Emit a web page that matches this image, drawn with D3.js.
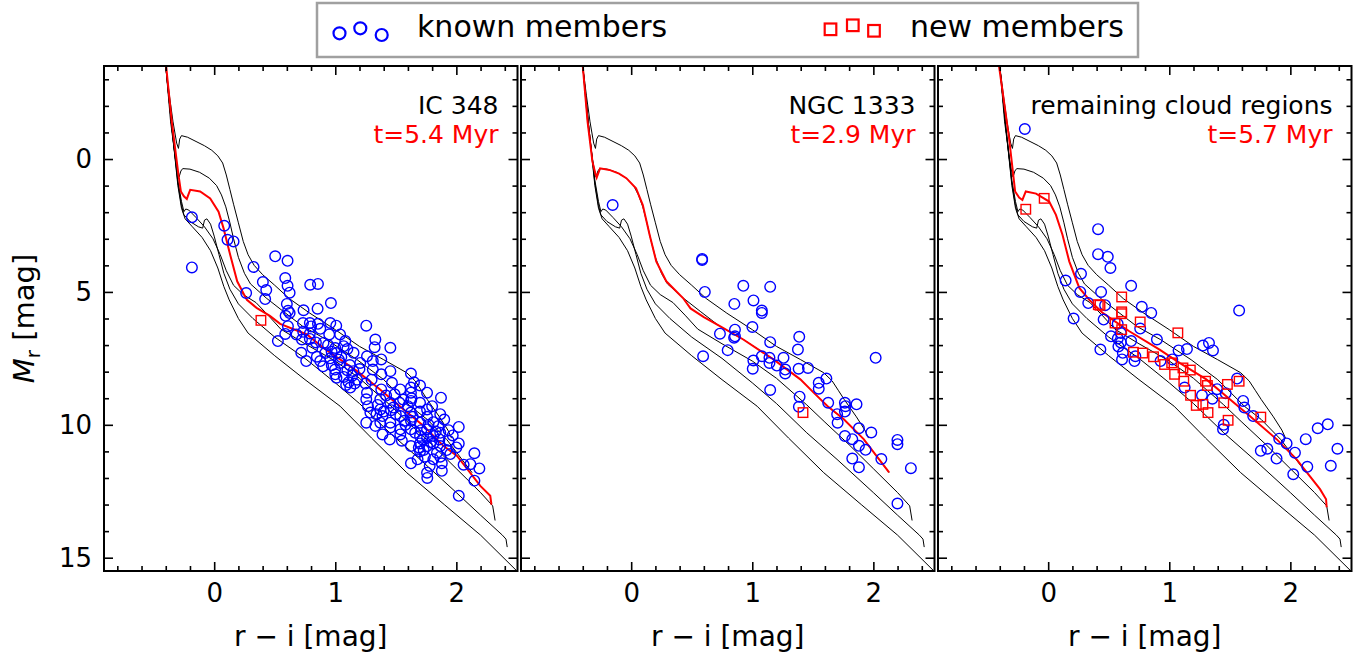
<!DOCTYPE html>
<html>
<head>
<meta charset="utf-8">
<script src="https://cdn.jsdelivr.net/npm/d3@7"></script>
<style>
  body { margin: 0; background: #fff; }
  text { font-family: "DejaVu Sans", sans-serif; }
</style>
</head>
<body>
<svg id="chart" width="1372" height="658"></svg>
<script>
// ============= Data =============

const xMajor = [0, 1, 2];
const xMinor = [-0.8, -0.6, -0.4, -0.2, 0.2, 0.4, 0.6, 0.8, 1.2, 1.4, 1.6, 1.8, 2.2, 2.4];
const yMajor = [0, 5, 10, 15];
const yMinor = [-3, -2, -1, 1, 2, 3, 4, 6, 7, 8, 9, 11, 12, 13, 14];

const panelNames = ["IC 348", "NGC 1333", "remaining cloud regions"];
const panelAges = ["t=5.4 Myr", "t=2.9 Myr", "t=5.7 Myr"];

// black reference isochrones (r-i, M_r), same in every panel
const isoA = [[-0.40,-3.5],[-0.37,-2.4],[-0.34,-1.4],[-0.31,-0.6],[-0.295,-0.4],[-0.285,-0.75],[-0.27,-0.88],[-0.22,-0.82],[-0.15,-0.66],[-0.08,-0.5],[-0.02,-0.33],[0.03,-0.12],[0.07,0.15],[0.10,0.6],[0.13,1.15],[0.16,1.7],[0.20,2.4],[0.24,3.1],[0.28,3.6],[0.33,4.0],[0.40,4.35],[0.50,4.75],[0.62,5.25],[0.79,5.8],[1.0,6.42],[1.2,7.05],[1.4,7.55],[1.59,8.04],[1.66,8.35],[1.71,8.7],[1.76,9.05],[1.86,9.7],[1.93,10.2],[1.96,10.5]];
const isoB = [[-0.40,-3.5],[-0.36,-1.4],[-0.32,0.0],[-0.30,0.5],[-0.29,0.68],[-0.275,0.45],[-0.26,0.36],[-0.2,0.38],[-0.12,0.5],[-0.04,0.72],[0.02,1.0],[0.06,1.35],[0.096,1.8],[0.13,2.4],[0.16,3.0],[0.2,3.7],[0.25,4.3],[0.3,4.7],[0.43,5.23],[0.57,5.73],[0.73,6.29],[0.93,6.8],[1.18,7.55],[1.4,8.3],[1.51,8.8],[1.62,9.3],[1.76,9.8],[1.92,10.55],[2.13,11.8]];
const isoC = [[-0.40,-3.5],[-0.35,-1.2],[-0.30,0.8],[-0.27,1.6],[-0.25,1.98],[-0.235,1.88],[-0.21,1.92],[-0.15,2.2],[-0.08,2.55],[-0.01,3.0],[0.05,3.6],[0.10,4.2],[0.16,4.75],[0.24,5.1],[0.345,5.4],[0.45,5.9],[0.55,6.4],[0.75,6.95],[1.0,7.6],[1.2,8.25],[1.45,9.25],[1.6,9.9],[1.8,10.75],[2.0,11.65],[2.2,12.55],[2.30,13.05],[2.32,13.6]];
const isoD = [[-0.40,-3.5],[-0.35,-1.2],[-0.30,0.9],[-0.27,1.75],[-0.25,2.1],[-0.20,2.35],[-0.13,2.55],[-0.095,2.6],[-0.08,2.3],[-0.06,2.25],[-0.03,2.45],[0.0,2.9],[0.04,3.6],[0.08,4.3],[0.13,4.9],[0.2,5.45],[0.32,6.0],[0.5,6.7],[0.75,7.5],[1.0,8.42],[1.2,9.2],[1.45,10.3],[1.7,11.3],[2.0,12.55],[2.2,13.4],[2.38,14.15],[2.41,14.3],[2.42,14.6]];
const isoE = [[-0.40,-3.5],[-0.35,-1.2],[-0.30,1.0],[-0.27,1.85],[-0.24,2.25],[-0.18,2.55],[-0.10,2.95],[-0.03,3.45],[0.03,4.1],[0.08,4.8],[0.124,5.3],[0.2,6.0],[0.28,6.55],[0.5,7.4],[0.75,8.3],[1.04,9.3],[1.3,10.5],[1.59,11.8],[1.9,13.0],[2.2,14.15],[2.5,15.5]];

// best fitting isochrone per panel (red)
const fitIC348 = [[-0.397,-3.5],[-0.35,-1.4],[-0.295,0.6],[-0.275,1.22],[-0.25,1.4],[-0.226,1.5],[-0.21,1.3],[-0.198,1.16],[-0.116,1.22],[-0.033,1.48],[0.036,1.98],[0.077,2.6],[0.132,3.6],[0.19,4.6],[0.27,5.3],[0.35,5.6],[0.46,5.9],[0.545,6.2],[0.766,6.6],[0.90,7.1],[1.18,7.98],[1.37,8.67],[1.565,9.42],[1.73,10.04],[1.895,10.8],[2.006,11.17],[2.198,12.3],[2.28,12.67],[2.29,13.0]];
const fitNGC1333 = [[-0.40,-3.5],[-0.36,-1.4],[-0.32,0.1],[-0.296,0.54],[-0.285,0.7],[-0.257,0.35],[-0.18,0.41],[-0.10,0.55],[-0.04,0.72],[0.04,1.1],[0.096,1.73],[0.152,2.85],[0.207,3.85],[0.29,4.6],[0.428,5.23],[0.49,5.62],[0.6,5.95],[0.733,6.29],[0.926,6.79],[1.175,7.54],[1.397,8.29],[1.507,8.79],[1.62,9.29],[1.756,9.79],[1.92,10.54],[2.13,11.79]];
const fitRest = [[-0.406,-3.5],[-0.36,-2.0],[-0.323,-0.78],[-0.273,1.22],[-0.24,1.45],[-0.213,1.54],[-0.185,1.22],[-0.10,1.3],[0.008,1.6],[0.064,2.1],[0.118,2.85],[0.174,3.85],[0.257,4.85],[0.34,5.3],[0.45,5.79],[0.67,6.48],[0.92,7.17],[1.085,7.67],[1.306,8.29],[1.50,9.04],[1.665,9.67],[1.886,10.54],[2.05,11.29],[2.245,12.42],[2.295,12.8],[2.30,13.1]];

// members (r-i, M_r)
const knownIC348 = [[-0.184,2.19],[-0.184,4.08],[0.083,2.51],[0.11,3.04],[0.16,3.1],[0.325,4.06],[0.504,3.66],[0.606,3.83],[0.264,5.04],[0.402,4.63],[0.43,4.93],[0.421,5.27],[0.587,4.48],[0.606,4.77],[0.623,5.03],[0.793,4.73],[0.857,4.7],[0.964,5.42],[0.60,5.45],[0.738,5.69],[0.854,5.63],[0.61,5.71],
  [0.623,5.79],[0.59,5.9],[0.733,6.17],[0.79,6.17],[0.857,6.2],[0.959,6.17],[1.008,6.27],[1.256,6.27],[0.609,6.29],[0.587,6.58],[0.526,6.85],[0.735,6.5],[0.79,6.56],[0.876,6.39],[0.725,6.79],[0.79,6.77],[0.84,6.9],[0.903,6.92],[1.04,6.6],[1.083,6.85],[1.069,7.04],[1.0,7.11],[1.01,7.3],[1.151,7.29],[1.206,7.67],[1.331,6.79],[1.325,7.08],[1.455,7.1],[1.262,7.42],[1.31,7.6],[1.38,7.54],[1.31,7.92],[1.38,8.1],[1.455,7.98],[1.625,8.07],[1.70,8.52],[1.758,8.79],[1.873,8.98],[1.867,9.6],[2.02,10.08],[1.936,10.2],[2.02,10.7],[2.0,10.85],[2.149,11.07],[2.116,11.48],[2.19,11.64],[2.149,12.1],[2.02,12.67],[2.06,11.5],
  [0.719,7.29],[0.76,7.6],[0.876,7.6],[0.917,7.3],[0.958,7.5],[0.971,7.76],[0.998,7.92],[1.04,7.67],[1.0,8.1],[1.07,8.2],[1.11,8.4],[1.124,8.6],[1.15,7.98],[1.18,8.3],[1.09,8.5],[1.01,8.23],[0.848,7.44],[0.81,7.1],[0.94,7.0],[1.05,7.45],[1.12,7.75],[0.9,7.8],[0.68,6.6],[0.8,6.3],[0.95,6.6],[1.1,7.15],[1.2,7.9],[1.16,8.45],
  [1.262,8.79],[1.256,9.04],[1.29,9.54],[1.256,9.92],[1.331,10.04],[1.372,9.04],[1.372,9.42],[1.39,9.67],[1.372,9.92],[1.39,10.36],[1.38,8.67],[1.468,8.42],[1.455,9.17],[1.46,9.45],[1.455,9.92],[1.455,10.1],[1.537,8.67],[1.53,9.17],[1.537,9.67],[1.537,10.17],[1.537,10.36],[1.625,8.6],[1.625,8.79],[1.625,9.1],[1.625,9.54],[1.625,9.85],[1.625,10.17],[1.625,10.8],[1.625,11.45],[1.70,9.17],[1.70,9.5],[1.70,9.92],[1.70,10.42],[1.70,10.7],[1.70,11.0],[1.758,9.42],[1.758,9.7],[1.758,10.17],[1.758,10.5],[1.758,10.8],[1.758,11.8],[1.76,12.0],[1.81,9.9],[1.81,10.42],[1.81,10.7],[1.81,11.3],[1.867,10.3],[1.867,10.8],[1.867,11.2],[1.88,11.73],[1.936,10.6],[1.95,11.1],[1.3,8.3],[1.42,8.9],[1.5,9.6],[1.58,10.0],[1.66,10.3],[1.73,10.95],[1.6,9.3],[1.49,8.85],[1.35,9.25],[1.25,8.45],[1.65,8.4],[1.8,9.3],[1.9,9.8],[1.97,10.4],[1.85,10.05],[1.55,10.6],[1.45,10.55],[1.68,11.3],[1.78,11.55],[1.84,11.05],
  [1.63,9.0],[1.64,9.7],[1.71,10.2],[1.72,10.55],[1.77,10.0],[1.79,10.65],[1.83,10.25],[1.86,10.55],[1.88,11.45],[1.92,10.95],[1.69,10.85],[1.74,11.2],[1.56,9.05],[1.57,9.85],[1.48,9.35],[1.4,9.5],[1.34,9.6],[1.27,9.3],[1.1,7.95],[1.03,7.55],[0.97,7.25],[1.14,8.15]];
const newIC348 = [[0.386,6.07]];

const knownNGC1333 = [[-0.153,1.73],[0.586,3.76],[0.586,3.8],[0.608,5.0],[0.926,4.77],[0.852,5.45],[1.01,5.32],[1.148,4.81],[1.079,5.7],[1.079,5.79],[1.001,6.32],[0.733,6.57],[0.857,6.42],[0.857,6.67],[0.85,6.72],[0.594,7.42],[0.797,7.19],[1.148,6.89],[1.388,6.69],[1.377,7.17],[1.009,7.58],[1.004,7.89],[1.079,7.42],[1.142,7.48],[1.142,7.67],[1.258,7.48],[1.203,7.77],[1.272,7.92],[1.272,8.07],[1.383,7.89],[1.46,7.86],[1.148,8.69],[1.391,8.94],[1.385,9.32],[1.549,8.42],[1.549,8.64],[1.612,8.26],[1.627,9.17],[1.765,9.17],[1.77,9.3],[1.765,9.5],[1.861,9.23],[1.701,9.6],[1.705,9.92],[1.881,10.13],[1.983,10.29],[1.765,10.42],[1.826,10.54],[1.881,10.79],[1.936,10.94],[1.826,11.27],[1.881,11.6],[2.066,11.29],[2.019,7.48],[2.199,10.57],[2.199,10.73],[2.31,11.63],[2.199,12.96]];
const newNGC1333 = [[1.419,9.54]];

const knownRest = [[-0.193,-1.13],[0.412,2.64],[0.412,3.58],[0.492,3.68],[0.514,4.1],[0.271,4.32],[0.144,4.57],[0.685,4.77],[0.265,5.0],[0.437,5.0],[0.331,5.42],[0.47,5.5],[0.773,5.56],[0.851,5.79],[1.577,5.7],[0.21,6.0],[0.458,6.04],[0.76,6.38],[0.574,6.2],[0.519,6.67],[0.575,6.75],[0.6,6.9],[0.58,7.05],[0.6,6.55],[0.685,6.85],[0.898,6.79],[0.431,7.17],[0.616,7.29],[0.61,7.54],[0.713,7.6],[0.72,7.42],[0.928,7.6],[1.025,7.54],[1.077,7.2],[1.146,7.15],[1.278,7.02],[1.328,6.92],[1.361,7.2],[1.127,8.6],[1.27,8.89],[1.356,9.02],[1.395,8.66],[1.466,8.81],[1.56,8.26],[1.61,9.1],[1.62,9.35],[1.693,9.67],[1.444,10.17],[1.45,10.0],[1.908,10.52],[1.969,10.7],[2.038,11.05],[1.756,10.98],[1.81,10.9],[1.886,11.27],[2.024,11.86],[2.14,11.58],[2.127,10.54],[2.226,10.13],[2.309,9.98],[2.389,10.9],[2.334,11.54]];
const newRest = [[-0.185,1.89],[-0.033,1.48],[0.607,5.19],[0.428,5.5],[0.607,5.75],[0.414,5.48],[0.607,5.82],[0.76,6.13],[0.552,6.17],[0.607,6.42],[1.071,6.54],[0.704,7.27],[0.781,7.3],[0.87,7.44],[0.961,7.73],[1.02,7.67],[1.044,8.1],[1.113,7.86],[1.174,7.94],[1.12,8.36],[1.30,8.36],[1.315,8.52],[1.176,8.89],[1.223,9.27],[1.278,9.23],[1.32,9.54],[1.45,9.17],[1.48,8.48],[1.577,8.36],[1.486,9.83],[1.756,9.71]];

const isochrones = [isoA, isoB, isoC, isoD, isoE];
const fits = [fitIC348, fitNGC1333, fitRest];
const known = [knownIC348, knownNGC1333, knownRest];
const fresh = [newIC348, newNGC1333, newRest];

// ============= Layout =============

const panelLeft = [104, 521, 938];
const pw = 413.5;
const plotTop = 66, plotBottom = 571;

const x = d3.scaleLinear().domain([-0.91, 2.505]).range([0, pw]);
const y = d3.scaleLinear().domain([-3.5, 15.5]).range([plotTop, plotBottom]);

const line = d3.line().x(d => x(d[0])).y(d => y(d[1]));

const svg = d3.select('#chart');

function styleAxis(g, fontSize) {
  g.select('.domain').remove();
  g.selectAll('.tick line').attr('stroke', '#000').attr('stroke-width', 1.6);
  g.selectAll('.tick text').attr('font-size', fontSize).attr('font-family', '"DejaVu Sans", sans-serif').attr('fill', '#000');
  g.attr('font-size', null).attr('font-family', null);
}

// ============= Panels =============

panelLeft.forEach((left, i) => {
  const g = svg.append('g').attr('transform', `translate(${left},0)`);

  g.append('clipPath').attr('id', 'clip' + i)
    .append('rect').attr('x', 0).attr('y', plotTop).attr('width', pw).attr('height', plotBottom - plotTop);

  const plot = g.append('g').attr('clip-path', `url(#clip${i})`);

  plot.selectAll('path.iso')
    .data(isochrones)
    .join('path')
    .attr('class', 'iso')
    .attr('d', line)
    .attr('fill', 'none')
    .attr('stroke', '#000')
    .attr('stroke-width', 1);

  plot.append('path')
    .attr('d', line(fits[i]))
    .attr('fill', 'none')
    .attr('stroke', '#ff0000')
    .attr('stroke-width', 2);

  plot.selectAll('circle')
    .data(known[i])
    .join('circle')
    .attr('cx', d => x(d[0]))
    .attr('cy', d => y(d[1]))
    .attr('r', 5.3)
    .attr('fill', 'none')
    .attr('stroke', '#0000ff')
    .attr('stroke-width', 1.4);

  const s = 9.5;
  plot.selectAll('rect.new')
    .data(fresh[i])
    .join('rect')
    .attr('class', 'new')
    .attr('x', d => x(d[0]) - s / 2)
    .attr('y', d => y(d[1]) - s / 2)
    .attr('width', s)
    .attr('height', s)
    .attr('fill', 'none')
    .attr('stroke', '#ff0000')
    .attr('stroke-width', 1.4);

  // ticks on all four sides, pointing inwards
  g.append('g').attr('transform', `translate(0,${plotBottom})`)
    .call(d3.axisBottom(x).tickValues(xMajor).tickSize(-9).tickPadding(13).tickFormat(d3.format('d')))
    .call(a => styleAxis(a, 26));
  g.append('g').attr('transform', `translate(0,${plotBottom})`)
    .call(d3.axisBottom(x).tickValues(xMinor).tickSize(-5).tickFormat(''))
    .call(a => styleAxis(a, 26));
  g.append('g').attr('transform', `translate(0,${plotTop})`)
    .call(d3.axisTop(x).tickValues(xMajor).tickSize(-9).tickFormat(''))
    .call(a => styleAxis(a, 26));
  g.append('g').attr('transform', `translate(0,${plotTop})`)
    .call(d3.axisTop(x).tickValues(xMinor).tickSize(-5).tickFormat(''))
    .call(a => styleAxis(a, 26));

  g.append('g')
    .call(d3.axisLeft(y).tickValues(yMajor).tickSize(-9).tickPadding(12).tickFormat(i === 0 ? d3.format('d') : ''))
    .call(a => styleAxis(a, 26));
  g.append('g')
    .call(d3.axisLeft(y).tickValues(yMinor).tickSize(-5).tickFormat(''))
    .call(a => styleAxis(a, 26));
  g.append('g').attr('transform', `translate(${pw},0)`)
    .call(d3.axisRight(y).tickValues(yMajor).tickSize(-9).tickFormat(''))
    .call(a => styleAxis(a, 26));
  g.append('g').attr('transform', `translate(${pw},0)`)
    .call(d3.axisRight(y).tickValues(yMinor).tickSize(-5).tickFormat(''))
    .call(a => styleAxis(a, 26));

  g.append('rect')
    .attr('x', 0).attr('y', plotTop)
    .attr('width', pw).attr('height', plotBottom - plotTop)
    .attr('fill', 'none')
    .attr('stroke', '#000')
    .attr('stroke-width', 2);

  g.append('text')
    .attr('x', pw - 19).attr('y', 113.5)
    .attr('text-anchor', 'end')
    .attr('font-size', 25)
    .text(panelNames[i]);
  g.append('text')
    .attr('x', pw - 19).attr('y', 142.5)
    .attr('text-anchor', 'end')
    .attr('font-size', 25)
    .attr('fill', '#ff0000')
    .text(panelAges[i]);

  g.append('text')
    .attr('x', pw / 2).attr('y', 646)
    .attr('text-anchor', 'middle')
    .attr('font-size', 28)
    .text('r \u2212 i [mag]');
});

// y label
const ylab = svg.append('text')
  .attr('transform', `translate(34,${(plotTop + plotBottom) / 2}) rotate(-90)`)
  .attr('text-anchor', 'middle')
  .attr('font-size', 29);
ylab.append('tspan').attr('font-style', 'italic').text('M');
ylab.append('tspan').attr('font-size', 20).attr('dy', 6).text('r');
ylab.append('tspan').attr('dy', -6).text(' [mag]');

// ============= Legend =============

const legend = svg.append('g');
legend.append('rect')
  .attr('x', 317).attr('y', 3)
  .attr('width', 821).attr('height', 54)
  .attr('fill', '#fff')
  .attr('stroke', '#a0a0a0')
  .attr('stroke-width', 2.5);

const markerPos = [[339.5, 33.3], [360.3, 28.3], [381.7, 35]];
legend.selectAll('circle')
  .data(markerPos)
  .join('circle')
  .attr('cx', d => d[0]).attr('cy', d => d[1])
  .attr('r', 6)
  .attr('fill', 'none')
  .attr('stroke', '#0000ff')
  .attr('stroke-width', 2.2);
legend.append('text').attr('x', 417).attr('y', 37.3).attr('font-size', 30).text('known members');

const squarePos = [[830.5, 29.3], [852.8, 25.3], [874, 30.8]];
legend.selectAll('rect.sq')
  .data(squarePos)
  .join('rect')
  .attr('class', 'sq')
  .attr('x', d => d[0] - 5.8).attr('y', d => d[1] - 5.8)
  .attr('width', 11.6).attr('height', 11.6)
  .attr('fill', 'none')
  .attr('stroke', '#ff0000')
  .attr('stroke-width', 2.2);
legend.append('text').attr('x', 910).attr('y', 37.3).attr('font-size', 30).text('new members');
</script>
</body>
</html>
